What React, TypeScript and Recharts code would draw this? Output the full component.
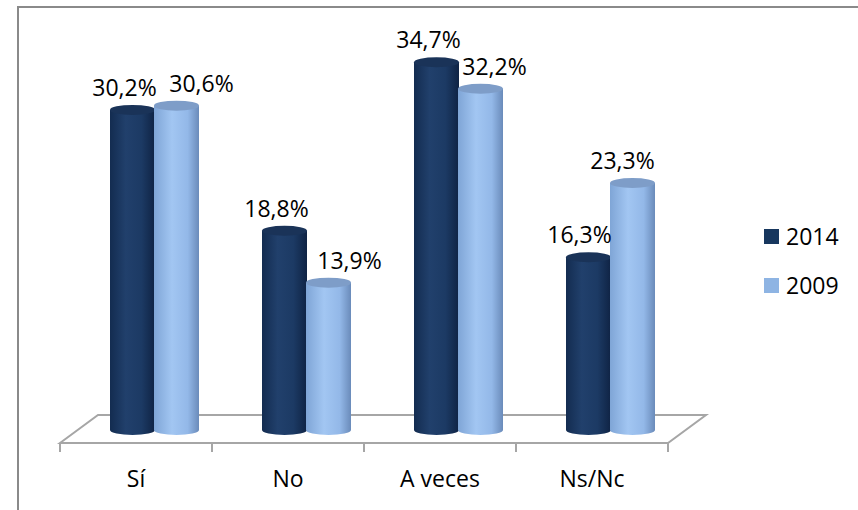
import React from 'react';
import { BarChart, Bar, XAxis, YAxis, Legend, LabelList } from 'recharts';

const categories = ['Sí', 'No', 'A veces', 'Ns/Nc'];
const values2014 = [30.2, 18.8, 34.7, 16.3];
const values2009 = [30.6, 13.9, 32.2, 23.3];
const seriesNames = ['2014', '2009'];

const data = categories.map((name, i) => ({
  name,
  v2014: values2014[i],
  v2009: values2009[i],
}));

const W = 858;
const H = 510;
const FONT = '"Open Sans", "Noto Sans", sans-serif';

// plot area sits on the middle of the floor's depth
const PLOT_LEFT = 78;
const PLOT_RIGHT = 686;
const PLOT_TOP = 6;
const PLOT_BOTTOM = 430;
const X_AXIS_H = 50;
const FRONT = { dx: -18, dy: 13 };
const BACK = { dx: 20, dy: -15 };
const RY = 5;

const DARK = '#17375E';
const LIGHT = '#8EB4E3';

const fmt = (v: number) => v.toFixed(1).replace('.', ',') + '%';

const Cylinder = (props: any) => {
  const { x, y, width, height, gradId, topFill } = props;
  if (width == null || height == null) return null;
  const rx = width / 2;
  const bottom = y + height;
  const body = `M${x},${y} L${x},${bottom} A${rx},${RY} 0 0 0 ${x + width},${bottom} L${x + width},${y} Z`;
  return (
    <g>
      <path d={body} fill={`url(#${gradId})`} />
      <ellipse cx={x + rx} cy={y} rx={rx} ry={RY} fill={topFill} />
    </g>
  );
};

// labels are nudged sideways the same way the 3D projection pushes them
const darkShift = [-8, -8, -8, -9];
const lightShift = [25, 21, 14, -10];

const makeLabel = (shifts: number[]) => (props: any) => {
  const { x, y, width, value, index } = props;
  return (
    <text
      x={x + width / 2 + shifts[index]}
      y={y - RY - 9}
      textAnchor="middle"
      fontFamily={FONT}
      fontSize={23}
      fill="#000"
    >
      {fmt(value)}
    </text>
  );
};

const CategoryTick = (props: any) => {
  const { x, payload } = props;
  return (
    <text
      x={x + FRONT.dx}
      y={PLOT_BOTTOM + 57}
      textAnchor="middle"
      fontFamily={FONT}
      fontSize={23}
      fill="#000"
    >
      {payload.value}
    </text>
  );
};

const LegendBox = (props: any) => {
  const items = [...(props.payload || [])].sort(
    (a: any, b: any) => seriesNames.indexOf(a.value) - seriesNames.indexOf(b.value)
  );
  return (
    <div style={{ fontFamily: FONT, fontSize: 23, color: '#000' }}>
      {items.map((p: any) => (
        <div key={p.value} style={{ display: 'flex', alignItems: 'center', height: 49 }}>
          <span style={{ width: 15, height: 15, background: p.color, display: 'inline-block', marginRight: 7 }} />
          <span style={{ lineHeight: '23px' }}>{p.value}</span>
        </div>
      ))}
    </div>
  );
};

// floor plate under the cylinders
const Floor = () => {
  const fl = PLOT_LEFT + FRONT.dx;
  const fr = PLOT_RIGHT + FRONT.dx;
  const fy = PLOT_BOTTOM + FRONT.dy;
  const bl = PLOT_LEFT + BACK.dx;
  const br = PLOT_RIGHT + BACK.dx;
  const by = PLOT_BOTTOM + BACK.dy;
  const step = (fr - fl) / categories.length;
  return (
    <svg width={W} height={H} style={{ position: 'absolute', left: 0, top: 0 }}>
      <g stroke="#A6A6A6" strokeWidth={2} fill="none">
        <path d={`M${fl},${fy} L${bl},${by} L${br},${by} L${fr},${fy} Z`} />
        {categories.concat(['']).map((_, i) => (
          <line key={i} x1={fl + i * step} y1={fy} x2={fl + i * step} y2={fy + 9} />
        ))}
      </g>
    </svg>
  );
};

export default function App() {
  return (
    <div style={{ position: 'absolute', left: 0, top: 0, width: W, height: H, overflow: 'hidden', background: '#fff' }}>
      <div
        style={{
          position: 'absolute',
          left: 17,
          top: 6,
          width: W + 20,
          height: H + 20,
          borderLeft: '2px solid #8A8A8A',
          borderTop: '2px solid #8A8A8A',
        }}
      />
      <Floor />
      <div style={{ position: 'absolute', left: 0, top: 0 }}>
        <BarChart
          width={W}
          height={H}
          data={data}
          margin={{ top: PLOT_TOP, left: PLOT_LEFT, right: W - PLOT_RIGHT, bottom: H - PLOT_BOTTOM - X_AXIS_H }}
          barGap={-1}
        >
          <defs>
            <linearGradient id="g2014" x1="0" y1="0" x2="1" y2="0">
              <stop offset="0%" stopColor="#132C50" />
              <stop offset="35%" stopColor="#21406C" />
              <stop offset="70%" stopColor="#1C3A64" />
              <stop offset="100%" stopColor="#0F2344" />
            </linearGradient>
            <linearGradient id="g2009" x1="0" y1="0" x2="1" y2="0">
              <stop offset="0%" stopColor="#7FA5D6" />
              <stop offset="40%" stopColor="#A2C6F2" />
              <stop offset="75%" stopColor="#93B8E8" />
              <stop offset="100%" stopColor="#6A8BBA" />
            </linearGradient>
          </defs>
          <XAxis
            dataKey="name"
            axisLine={false}
            tickLine={false}
            height={X_AXIS_H}
            tick={<CategoryTick />}
            interval={0}
          />
          <YAxis hide domain={[0, 40]} />
          <Legend
            layout="vertical"
            align="center"
            verticalAlign="middle"
            wrapperStyle={{ left: 764, top: 212, width: 90 }}
            content={<LegendBox />}
          />
          <Bar
            dataKey="v2014"
            name={seriesNames[0]}
            fill={DARK}
            barSize={45}
            isAnimationActive={false}
            shape={(p: any) => <Cylinder {...p} gradId="g2014" topFill="#1A3358" />}
          >
            <LabelList dataKey="v2014" content={makeLabel(darkShift)} />
          </Bar>
          <Bar
            dataKey="v2009"
            name={seriesNames[1]}
            fill={LIGHT}
            barSize={45}
            isAnimationActive={false}
            shape={(p: any) => <Cylinder {...p} gradId="g2009" topFill="#7E9DC8" />}
          >
            <LabelList dataKey="v2009" content={makeLabel(lightShift)} />
          </Bar>
        </BarChart>
      </div>
    </div>
  );
}
